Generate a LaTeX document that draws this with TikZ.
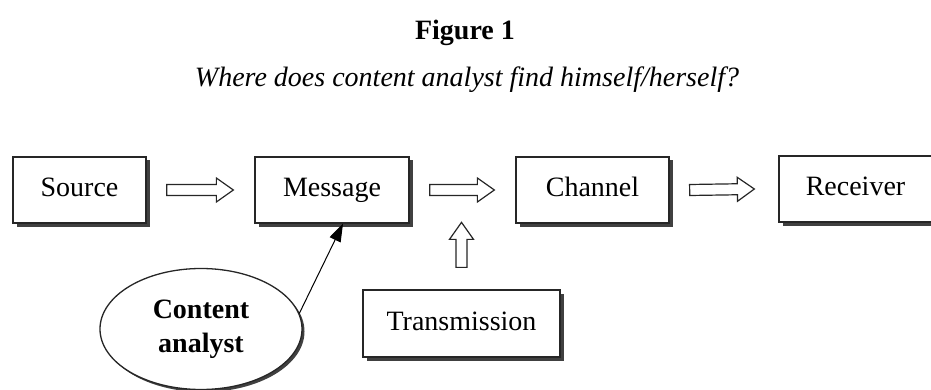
\documentclass[tikz,border=0pt]{standalone}
\usepackage{fontspec}
\setmainfont{Liberation Serif}
\usetikzlibrary{shapes.geometric,shadows,calc,arrows.meta}

% Hollow block arrow from #1 to #2
\newcommand\blockarrow[2]{%
  \draw[hollowarrow]
    ($#1!5.5pt!90:#2$) --
    ($($#2!17pt!#1$)!5.5pt!-90:#1$) --
    ($($#2!17pt!#1$)!12pt!-90:#1$) --
    #2 --
    ($($#2!17pt!#1$)!12pt!90:#1$) --
    ($($#2!17pt!#1$)!5.5pt!90:#1$) --
    ($#1!5.5pt!-90:#2$) -- cycle;}

\begin{document}
\begin{tikzpicture}[x=1pt,y=-1pt,
  font=\fontsize{28}{30}\selectfont,
  boxshadow/.style={drop shadow={shadow xshift=3.5pt,shadow yshift=-3.5pt,
      fill=black!75,opacity=1}},
  stage/.style={draw=black!85,line width=1.3pt,fill=white,rectangle,
      minimum height=66pt,inner sep=0pt,text height=19pt,text depth=6pt,
      boxshadow},
  analyst/.style={draw=black!85,line width=1.3pt,fill=white,ellipse,
      minimum width=202pt,minimum height=121pt,inner sep=0pt,
      align=center,font=\fontsize{28}{34}\selectfont\bfseries,
      drop shadow={shadow xshift=2.5pt,shadow yshift=-2.5pt,fill=black!75,opacity=1}},
  hollowarrow/.style={draw=black!85,line width=1.2pt,fill=white,line join=miter},
  pointer/.style={draw=black,line width=1pt,-{Triangle[length=18pt,width=12pt]}}]

\useasboundingbox (0,0) rectangle (931,390);

% title lines
\node[font=\fontsize{28}{30}\selectfont\bfseries] (title) at (465,33) {Figure 1};
\node[font=\fontsize{28}{30}\selectfont\itshape] (subtitle) at (467,80)
  {Where does content analyst find himself/herself?};

% communication chain
\node[stage,minimum width=133pt] (src) at (79.5,190) {Source};
\node[stage,minimum width=154pt] (msg) at (332,190) {Message};
\node[stage,minimum width=153pt] (chn) at (592.5,190) {Channel};
\node[stage,minimum width=153pt] (rcv) at (855.5,189) {Receiver};
\node[stage,minimum width=197pt,minimum height=67pt] (trm) at (461.5,323.5) {Transmission};
\node[analyst] (ca) at (201,329) {Content\\analyst};

% hollow arrows between the stages
\coordinate (a1s) at ($(src.east)+(20,0)$);
\coordinate (a1e) at ($(msg.west)+(-21,0)$);
\coordinate (a2s) at ($(msg.east)+(20,0)$);
\coordinate (a2e) at ($(chn.west)+(-21,0)$);
\coordinate (a3s) at ($(chn.east)+(20,0)$);
\coordinate (a3e) at ($(rcv.west)+(-24,0)$);
\coordinate (a4s) at ($(trm.north)+(0,-22)$);
\coordinate (a4e) at ($(trm.north)+(0,-67)$);
\blockarrow{(a1s)}{(a1e)}
\blockarrow{(a2s)}{(a2e)}
\blockarrow{(a3s)}{(a3e)}
\blockarrow{(a4s)}{(a4e)}

% the analyst examines the message
\draw[pointer] (ca.9) -- ($(msg.south)+(11,0)$);
\end{tikzpicture}
\end{document}
